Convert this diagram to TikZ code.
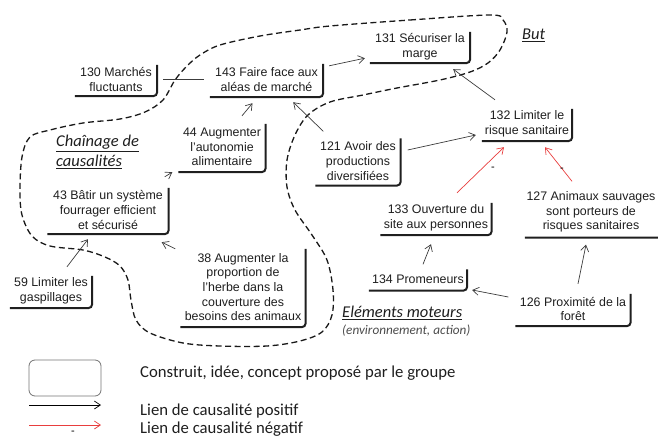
\documentclass[tikz,border=0pt]{standalone}
\usepackage{fontspec}
\setmainfont{Liberation Sans}
\newfontfamily\calibrifont{Carlito}
\usetikzlibrary{arrows.meta,calc}
\definecolor{negred}{RGB}{232,62,62}
\definecolor{linkgray}{RGB}{60,60,60}
\definecolor{txtcol}{RGB}{30,30,30}
\tikzset{
 concept/.style={align=center, inner sep=0pt, font=\fontsize{12.4}{14.6}\selectfont, text=txtcol},
 shadowL/.style={line width=2pt, rounded corners=4pt, black!88},
 poslink/.style={linkgray, line width=0.7pt, -{Straight Barb[length=6pt,width=8pt]}},
 neglink/.style={negred, line width=0.7pt, -{Straight Barb[length=6pt,width=8pt]}},
 plainlink/.style={linkgray, line width=0.7pt},
 heading/.style={font=\calibrifont\itshape\fontsize{16.5}{19.5}\selectfont, align=left, inner sep=0pt, anchor=west, text=txtcol},
 subheading/.style={font=\calibrifont\itshape\fontsize{13.2}{15}\selectfont, inner sep=0pt, anchor=west, text=black!70},
 legendtext/.style={font=\calibrifont\fontsize{16.7}{19}\selectfont, inner sep=0pt, anchor=west, text=txtcol},
 minussign/.style={font=\fontsize{11}{12}\selectfont, inner sep=0pt},
 boundary/.style={dash pattern=on 6pt off 3.5pt, line width=1.3pt, black!90}
}
\begin{document}
\begin{tikzpicture}[x=1pt,y=-1pt]
\useasboundingbox (0,0) rectangle (658,439);

% dashed boundary of the causal chain
\draw[boundary] plot[smooth cycle, tension=0.55] coordinates {
 (330,26) (410,20) (490,15) (503,20) (507,32) (500,50) (488,63) (470,72)
 (440,80) (397,88) (363,95) (330,102) (308,115) (295,135) (287,160) (287,187)
 (295,210) (312,235) (327,260) (333,290) (332,315) (322,332) (300,341) (267,346)
 (220,346) (183,343) (150,333) (136,320) (131,300) (128,280) (120,266) (105,257)
 (83,250) (50,246) (32,236) (22,215) (20,190) (22,157) (30,137) (50,130)
 (83,123) (120,119) (145,112) (163,100) (175,80) (187,66) (200,55) (220,45)
 (260,36) (300,30)};

% concept nodes
\node[concept, minimum width=82pt, minimum height=33pt] (n130) at (116,79.5) {130 Marchés\\fluctuants};
\node[concept, minimum width=113pt, minimum height=35pt] (n143) at (266.5,79.5) {143 Faire face aux\\aléas de marché};
\node[concept, minimum width=100pt, minimum height=33pt] (n131) at (420,46.5) {131 Sécuriser la\\marge};
\node[concept, minimum width=90pt, minimum height=34pt] (n132) at (527,124) {132 Limiter le\\risque sanitaire};
\node[concept, minimum width=87pt, minimum height=50pt] (n44) at (222,147) {44 Augmenter\\l'autonomie\\alimentaire};
\node[concept, minimum width=85pt, minimum height=49pt] (n121) at (358,161) {121 Avoir des\\productions\\diversifiées};
\node[concept, minimum width=121pt, minimum height=48pt] (n43) at (108,210) {43 Bâtir un système\\fourrager efficient\\et sécurisé};
\node[concept, minimum width=125pt, minimum height=80pt] (n38) at (243,287) {38 Augmenter la\\proportion de\\l'herbe dans la\\couverture des\\besoins des animaux};
\node[concept, minimum width=82pt, minimum height=34pt] (n59) at (51,291) {59 Limiter les\\gaspillages};
\node[concept, minimum width=111pt, minimum height=34pt] (n133) at (436,218) {133 Ouverture du\\site aux personnes};
\node[concept, minimum width=138pt, minimum height=51pt] (n127) at (594,212) {\hspace*{-6pt}127 Animaux sauvages\\\hspace*{-6pt}sont porteurs de\\\hspace*{-6pt}risques sanitaires};
\node[concept, minimum width=98pt, minimum height=23pt] (n134) at (418,279) {134 Promeneurs};
\node[concept, minimum width=115pt, minimum height=34pt] (n126) at (573,309) {126 Proximité de la\\forêt};

% shadow borders (right and bottom)
\foreach \n in {n130,n143,n131,n132,n44,n121,n43,n38,n59,n133,n127,n134,n126}{
  \draw[shadowL] ($(\n.north east)+(0,2)$) -- (\n.south east) -- (\n.south west);
}

% links
\draw[plainlink] ($(n130.east)+(6,0)$) -- ($(n143.west)+(-6,0)$);
\draw[poslink] ($(n143.north east)+(6,4)$) -- ($(n131.south west)+(-5,-5)$);
\draw[poslink] ($(n44.north)+(20,-6)$) -- ($(n143.south)+(-14,6)$);
\draw[poslink] ($(n121.north west)+(8,-5)$) -- ($(n143.south east)+(-30,5)$);
\draw[poslink] ($(n121.east)+(7,-11)$) -- ($(n132.west)+(-6,11)$);
\draw[poslink] ($(n132.north)+(-32,-7)$) -- ($(n131.south east)+(-17,6)$);
\draw[poslink] ($(n43.north east)+(-4,-9)$) -- ($(n44.south west)+(-6,0)$);
\draw[poslink] ($(n38.north west)+(-5,2)$) -- ($(n43.south east)+(-7,8)$);
\draw[poslink] ($(n59.north)+(16,-7)$) -- ($(n43.south)+(-20,5)$);
\draw[neglink] ($(n133.north)+(21,-8)$) -- ($(n132.south)+(-23,6)$);
\draw[neglink] ($(n127.north)+(-22,-5)$) -- ($(n132.south)+(18,6)$);
\draw[poslink] ($(n134.north)+(5,-3)$) -- ($(n133.south)+(-5,9)$);
\draw[poslink] ($(n126.west)+(-7,-12)$) -- ($(n134.east)+(5,11)$);
\draw[poslink] ($(n126.north)+(5,-8)$) -- ($(n127.south)+(-8,7)$);

\node[minussign] (m1) at (493,169) {-};
\node[minussign] (m2) at (562,170) {-};

% headings
\node[heading] (hchain) at (56,152) {\underline{Chaînage de}\\\underline{causalités}};
\node[heading] (hbut) at (522,35) {\underline{But}};
\node[heading] (hmot) at (342,313) {\underline{Eléments moteurs}};
\node[subheading] (hsub) at (342,331) {(environnement, action)};

% legend
\node[draw=black!55, line width=0.8pt, rounded corners=6pt, minimum width=72pt, minimum height=36pt, inner sep=0pt] (legbox) at (65,378) {};
\coordinate (lp1) at (29,405);
\coordinate (lp2) at (101,405);
\coordinate (ln1) at (29,425);
\coordinate (ln2) at (101,425);
\draw[poslink, black] (lp1) -- (lp2);
\draw[neglink] (ln1) -- (ln2);
\node[minussign] (m3) at (73,433) {-};
\node[legendtext] (t1) at (140,373) {Construit, idée, concept proposé par le groupe};
\node[legendtext] (t2) at (140,411) {Lien de causalité positif};
\node[legendtext] (t3) at (140,429) {Lien de causalité négatif};
\end{tikzpicture}
\end{document}
